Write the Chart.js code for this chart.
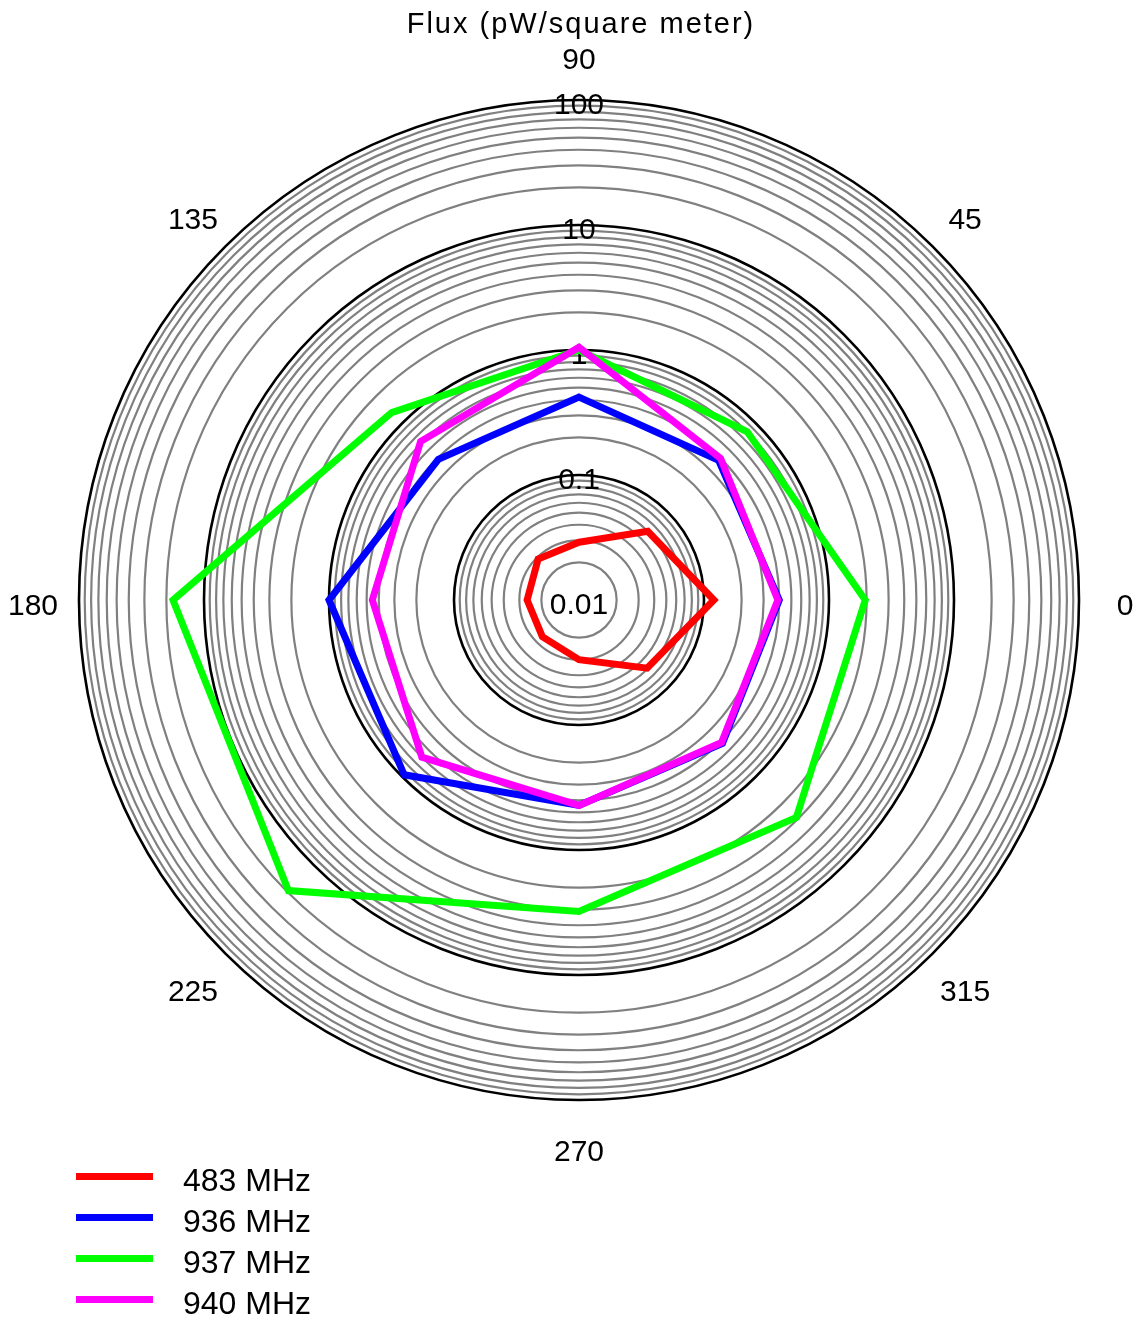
<!DOCTYPE html>
<html>
<head>
<meta charset="utf-8">
<title>Flux polar plot</title>
<script src="https://cdn.jsdelivr.net/npm/chart.js@4.4.1/dist/chart.umd.min.js"></script>
<style>
  html, body { margin: 0; padding: 0; background: #fff; }
  #wrap { position: relative; width: 1140px; height: 1323px; overflow: hidden; }
  #fluxChart { position: absolute; left: 0; top: 0; }
  #title {
    position: absolute; left: 0; width: 1162px; top: 9px;
    text-align: center; font: 29px/29px "Liberation Sans", Arial, sans-serif;
    letter-spacing: 2px; color: #000;
  }
  .legend-row {
    position: absolute; left: 0; height: 41px;
    display: flex; align-items: center;
    font: 32px/41px "Liberation Sans", Arial, sans-serif; color: #000;
  }
  .legend-line { width: 77px; height: 7px; margin-left: 76px; position: relative; top: -4px; }
  .legend-text { margin-left: 30px; }
</style>
</head>
<body>
<div id="wrap">
  <canvas id="fluxChart" width="1140" height="1323"></canvas>
  <div id="title">Flux (pW/square meter)</div>
  <div id="legend"></div>
</div>
<script>
// angles in degrees, counter-clockwise from 0 (east)
const angles = [0, 45, 90, 135, 180, 225, 270, 315];

// flux values (pW/m^2), one per angle
const flux483 = [0.12, 0.060, 0.029, 0.029, 0.026, 0.026, 0.030, 0.059];
const flux936 = [0.40, 0.38, 0.42, 0.39, 1.0, 0.95, 0.44, 0.42];
const flux937 = [1.95, 0.80, 1.0, 1.32, 17.7, 19.4, 3.1, 2.88];
const flux940 = [0.39, 0.40, 1.05, 0.62, 0.45, 0.60, 0.44, 0.41];

const seriesNames = ['483 MHz', '936 MHz', '937 MHz', '940 MHz'];
const seriesColors = ['#ff0000', '#0000ff', '#00ff00', '#ff00ff'];

// radial axis: log decades, plus minor steps 2..9
const decadeTicks = [0.01, 0.1, 1, 10, 100];
const decadeLabels = ['0.01', '0.1', '1', '10', '100'];
const minorSteps = [2, 3, 4, 5, 6, 7, 8, 9];

// where the polar plot sits on the canvas
const plotCenter = { x: 579, y: 600 };
const plotRadius = 500;

const RMIN = decadeTicks[0];
const toR = v => Math.log10(v / RMIN);

// Chart.js radar runs clockwise from the top, so reorder 90,45,0,315,...
const order = angles.map((a, i) => i)
  .sort((i, j) => ((90 - angles[i] + 360) % 360) - ((90 - angles[j] + 360) % 360));

const allSeries = [flux483, flux936, flux937, flux940];

const datasets = allSeries.map((vals, k) => ({
  label: seriesNames[k],
  data: order.map(i => toR(vals[i])),
  borderColor: seriesColors[k],
  backgroundColor: seriesColors[k],
  borderWidth: 7,
  pointRadius: 0,
  pointHoverRadius: 0,
  fill: false,
  tension: 0,
  order: allSeries.length - k   // later series drawn on top
}));

// tick values in log units
const tickValues = [];
decadeTicks.forEach((d, n) => {
  tickValues.push(toR(d));
  if (n < decadeTicks.length - 1) {
    minorSteps.forEach(m => tickValues.push(toR(d * m)));
  }
});

const isDecade = v => Math.abs(v - Math.round(v)) < 1e-6;

const FONT = '"Liberation Sans", Arial, sans-serif';

// angle labels just outside the outer ring
const angleLabelPlugin = {
  id: 'angleLabels',
  afterDraw(chart) {
    const scale = chart.scales.r;
    const ctx = chart.ctx;
    ctx.save();
    ctx.font = '30px ' + FONT;
    ctx.fillStyle = '#000';
    ctx.textAlign = 'center';
    ctx.textBaseline = 'middle';
    chart.data.labels.forEach((label, i) => {
      const p = scale.getPointPosition(i, scale.drawingArea + 46);
      ctx.fillText(label, p.x, p.y + 7);
    });
    ctx.restore();
  }
};

// decade labels sit a little below each ring, under the data lines
const decadeLabelPlugin = {
  id: 'decadeLabels',
  beforeDatasetsDraw(chart) {
    const scale = chart.scales.r;
    const ctx = chart.ctx;
    ctx.save();
    ctx.font = '30px ' + FONT;
    ctx.fillStyle = '#000';
    ctx.textAlign = 'center';
    ctx.textBaseline = 'middle';
    decadeTicks.forEach((d, n) => {
      const p = scale.getPointPosition(0, scale.getDistanceFromCenterForValue(toR(d)));
      ctx.fillText(decadeLabels[n], p.x, p.y + 6);
    });
    ctx.restore();
  }
};

new Chart(document.getElementById('fluxChart'), {
  type: 'radar',
  data: {
    labels: order.map(i => String(angles[i])),
    datasets: datasets
  },
  options: {
    responsive: false,
    animation: false,
    devicePixelRatio: 1,
    layout: { padding: { left: 79, right: 61, top: 90, bottom: 200 } },
    plugins: {
      legend: { display: false },
      title: { display: false },
      tooltip: { enabled: false }
    },
    elements: { line: { borderJoinStyle: 'miter' } },
    scales: {
      r: {
        min: 0,
        max: toR(decadeTicks[decadeTicks.length - 1]),
        angleLines: { display: false },
        pointLabels: { display: false },
        grid: {
          circular: true,
          color: c => isDecade(c.tick.value) ? '#000000' : '#808080',
          lineWidth: c => isDecade(c.tick.value) ? 2.6 : 2.2
        },
        ticks: { display: false, autoSkip: false },
        afterBuildTicks: scale => {
          scale.ticks = tickValues.map(v => ({ value: v }));
        },
        afterFit: scale => {
          scale.xCenter = plotCenter.x;
          scale.yCenter = plotCenter.y;
          scale.drawingArea = plotRadius;
        }
      }
    }
  },
  plugins: [decadeLabelPlugin, angleLabelPlugin]
});

// legend
const legend = document.getElementById('legend');
seriesNames.forEach((name, k) => {
  const row = document.createElement('div');
  row.className = 'legend-row';
  row.style.top = (1160 + k * 41) + 'px';
  row.innerHTML = `<span class="legend-line" style="background:${seriesColors[k]}"></span><span class="legend-text">${name}</span>`;
  legend.appendChild(row);
});
</script>
</body>
</html>
